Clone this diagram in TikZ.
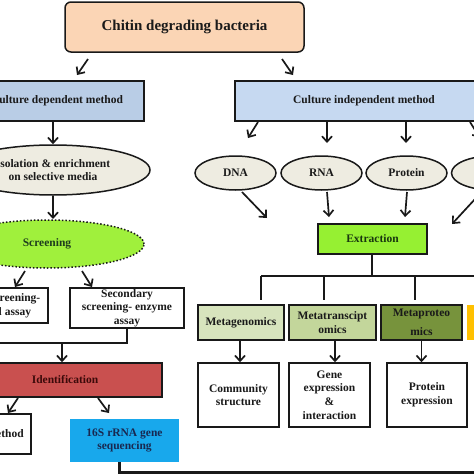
\documentclass[tikz,border=0pt]{standalone}
\usepackage{fontspec}
\setmainfont{Liberation Serif}
\usetikzlibrary{arrows.meta,shapes.geometric}
\definecolor{peach}{HTML}{FBD5B5}
\definecolor{cblue}{HTML}{B9CDE6}
\definecolor{cblue2}{HTML}{C6D9F1}
\definecolor{ellfill}{HTML}{EEECE1}
\definecolor{lime}{HTML}{A0F03C}
\definecolor{extr}{HTML}{96F032}
\definecolor{identred}{HTML}{C9504F}
\definecolor{seqblue}{HTML}{18A8EC}
\definecolor{mgen}{HTML}{D7E4BD}
\definecolor{mtra}{HTML}{C3D69B}
\definecolor{mpro}{HTML}{77933C}
\definecolor{myel}{HTML}{FFC000}
\definecolor{txt}{HTML}{1A1A1A}
\begin{document}
\begin{tikzpicture}[x=1pt,y=-1pt,
  every node/.style={font=\bfseries\fontsize{11.5}{13.6}\selectfont, text=txt, align=center, inner sep=0pt},
  bx/.style={draw=black!90, line width=1.5pt, rectangle},
  ell/.style={draw=black!90, line width=1.5pt, ellipse, fill=ellfill},
  arr/.style={-{Straight Barb[length=5.5pt,width=10pt]}, line width=1.7pt, black!90},
  ln/.style={line width=1.7pt, black!90}]
\useasboundingbox (0,0) rectangle (474,474);
\clip (0,0) rectangle (474,474);
\fill[white] (0,0) rectangle (474,474);

% nodes
\node[bx, fill=peach, rounded corners=6pt, minimum width=239pt, minimum height=50pt,
  font=\bfseries\fontsize{15}{17}\selectfont] (top) at (184.5,27) {Chitin degrading bacteria};
\node[bx, fill=cblue, minimum width=174pt, minimum height=40pt] (cdep) at (57,101) {Culture dependent method};
\node[bx, fill=cblue2, minimum width=258pt, minimum height=40pt] (cind) at (364,101) {Culture independent method};

\node[ell, minimum width=194pt, minimum height=50pt] (iso) at (53,170) {Isolation \& enrichment\\on selective media};
\node[ellipse, draw=black!90, line width=1.5pt, dotted, fill=lime, minimum width=194pt, minimum height=48pt,
  text={rgb,255:red,30;green,60;blue,30}] (scr) at (47,244) {Screening};
\node[bx, fill=white, minimum width=110pt, minimum height=35pt] (prim) at (-7,305.5) {Primary screening-\\plate well assay};
\node[bx, fill=white, minimum width=114pt, minimum height=40pt] (sec) at (127,308) {Secondary\\screening- enzyme\\assay};
\node[bx, fill=identred, minimum width=194pt, minimum height=34pt, text={rgb,255:red,60;green,10;blue,10}] (ident) at (65,380) {Identification};
\node[bx, fill=white, minimum width=110pt, minimum height=40pt] (trad) at (-24,434) {Traditional method};
\node[rectangle, fill=seqblue, minimum width=109pt, minimum height=43pt, text={rgb,255:red,25;green,40;blue,80}] (seq) at (124.5,440.5) {16S rRNA gene\\sequencing};

\node[ell, minimum width=81pt, minimum height=34pt] (dna) at (235.5,173) {DNA};
\node[ell, minimum width=81pt, minimum height=34pt] (rna) at (321.5,173) {RNA};
\node[ell, minimum width=81pt, minimum height=34pt] (prot) at (406.5,173) {Protein};
\node[ell, minimum width=81pt, minimum height=34pt] (met) at (492,173) {};

\node[bx, fill=extr, minimum width=109pt, minimum height=30pt, text={rgb,255:red,25;green,55;blue,15}] (ext) at (372.5,239) {Extraction};

\node[bx, fill=mgen, minimum width=86pt, minimum height=35pt] (mg) at (241,322.5) {Metagenomics};
\node[bx, fill=mtra, minimum width=87pt, minimum height=35pt] (mt) at (332.5,322.5) {Metatranscipt\\omics};
\node[bx, fill=mpro, minimum width=81pt, minimum height=35pt, font=\bfseries\fontsize{11.5}{19}\selectfont] (mp) at (421.5,322.5) {Metaproteo\\mics};
\node[rectangle, fill=myel, minimum width=83pt, minimum height=35pt] (my) at (508.5,322.5) {};

\node[bx, fill=white, minimum width=81pt, minimum height=64pt] (comm) at (238.5,395) {Community\\structure};
\node[bx, fill=white, minimum width=81pt, minimum height=64pt] (gene) at (329.5,395) {Gene\\expression\\\&\\interaction};
\node[bx, fill=white, minimum width=80pt, minimum height=64pt] (pexp) at (427,395) {Protein\\expression};

% coordinates for free arrow ends
\coordinate (a1s) at (88,59);  \coordinate (a1e) at (77,75);
\coordinate (a2s) at (282,59); \coordinate (a2e) at (293,75);
\coordinate (b1s) at (258,122); \coordinate (b1e) at (248,138);
\coordinate (b2s) at (327,122); \coordinate (b2e) at (327,143);
\coordinate (b3s) at (406,122); \coordinate (b3e) at (406,143);
\coordinate (b4s) at (470,122); \coordinate (b4e) at (480,138);
\coordinate (c1s) at (242,192); \coordinate (c1e) at (267,218);
\coordinate (c2s) at (327,192); \coordinate (c2e) at (329,217);
\coordinate (c3s) at (407,192); \coordinate (c3e) at (405,217);
\coordinate (c4s) at (476,198); \coordinate (c4e) at (452,224);
\coordinate (s1s) at (25,271); \coordinate (s1e) at (15,287);
\coordinate (s2s) at (82,271); \coordinate (s2e) at (92,287);
\coordinate (i1s) at (18,398); \coordinate (i1e) at (8,413);
\coordinate (i2s) at (98,398); \coordinate (i2e) at (109,413);
\coordinate (mrg) at (62,343);
\coordinate (tr) at (372,276);
\coordinate (bot) at (474,472.5);

% connectors
\draw[arr] (a1s) -- (a1e);
\draw[arr] (a2s) -- (a2e);
\draw[arr] (cdep.south -| iso.north) -- (iso.north);
\draw[arr] (iso.south -| 53,0) -- (53,219);
\draw[arr] (s1s) -- (s1e);
\draw[arr] (s2s) -- (s2e);
\draw[ln] (prim.south) |- (mrg) -| (sec.south);
\draw[arr] (mrg) -- (mrg |- ident.north);
\draw[arr] (i1s) -- (i1e);
\draw[arr] (i2s) -- (i2e);
\draw[line width=2.4pt, black!90] ([xshift=-5pt]seq.south) |- (bot);

\draw[arr] (b1s) -- (b1e);
\draw[arr] (b2s) -- (b2e);
\draw[arr] (b3s) -- (b3e);
\draw[arr] (b4s) -- (b4e);
\draw[arr] (c1s) -- (c1e);
\draw[arr] (c2s) -- (c2e);
\draw[arr] (c3s) -- (c3e);
\draw[arr] (c4s) -- (c4e);

\draw[ln] (ext.south -| tr) -- (tr);
\draw[ln] (261,276) -- (510,276);
\draw[ln] (261,276) -- (261,300);
\draw[ln] (324,276) -- (324,300);
\draw[ln] (415,276) -- (415,300);
\draw[ln] (505,276) -- (505,300);

\draw[arr] ([xshift=-1pt]mg.south) -- ([xshift=-1pt]mg.south |- comm.north);
\draw[arr] ([xshift=2.5pt]mt.south) -- ([xshift=2.5pt]mt.south |- gene.north);
\draw[arr] (mp.south) -- (mp.south |- pexp.north);
\end{tikzpicture}
\end{document}
